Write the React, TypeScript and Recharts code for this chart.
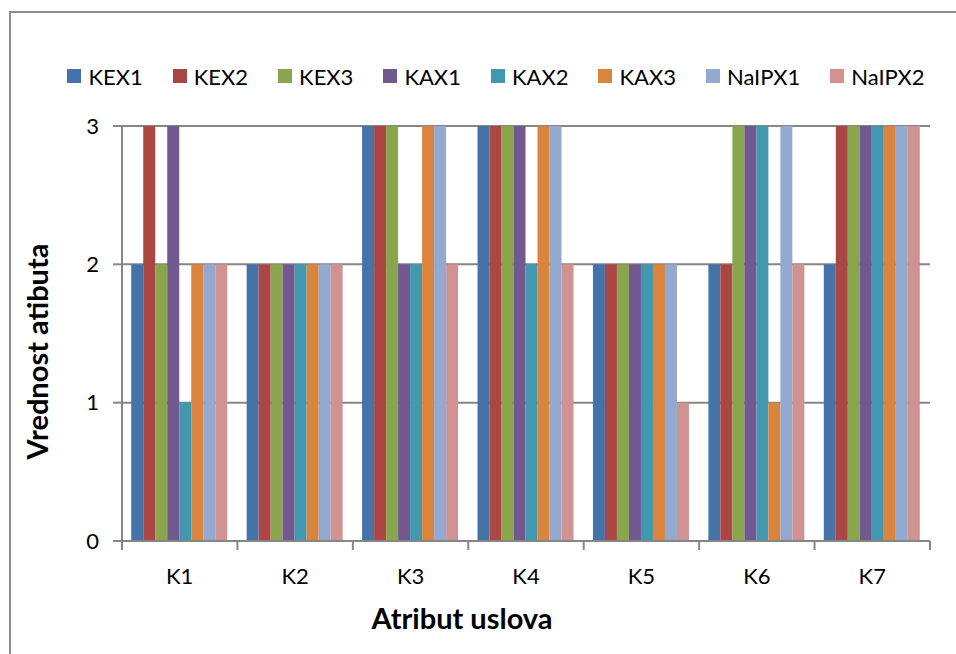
import { BarChart, Bar, XAxis, YAxis, CartesianGrid, Legend } from "recharts";

const categories = ["K1", "K2", "K3", "K4", "K5", "K6", "K7"];
const seriesNames = ["KEX1", "KEX2", "KEX3", "KAX1", "KAX2", "KAX3", "NaIPX1", "NaIPX2"];
const kex1 = [2, 2, 3, 3, 2, 2, 2];
const kex2 = [3, 2, 3, 3, 2, 2, 3];
const kex3 = [2, 2, 3, 3, 2, 3, 3];
const kax1 = [3, 2, 2, 3, 2, 3, 3];
const kax2 = [1, 2, 2, 2, 2, 3, 3];
const kax3 = [2, 2, 3, 3, 2, 1, 3];
const naipx1 = [2, 2, 3, 3, 2, 3, 3];
const naipx2 = [2, 2, 2, 2, 1, 2, 3];
const yTicks = [0, 1, 2, 3];

const colors = ["#4572A7", "#AA4643", "#89A54E", "#71588F", "#4198AF", "#DB843D", "#93A9CF", "#D19392"];
const values = [kex1, kex2, kex3, kax1, kax2, kax3, naipx1, naipx2];

const data = categories.map((c, i) => {
  const row: any = { name: c };
  seriesNames.forEach((s, j) => (row[s] = values[j][i]));
  return row;
});

const FONT = "Lato, 'DejaVu Sans', sans-serif";
const GRID = "#868686";

function CatTick(props: any) {
  const { x, y, payload, index, visibleTicksCount } = props;
  const band = props.width && visibleTicksCount ? props.width / visibleTicksCount : 2 * (payload.offset || 0);
  const left = x - band / 2;
  return (
    <g>
      <line x1={left} x2={left} y1={y} y2={y + 9} stroke={GRID} strokeWidth={2} />
      {index === visibleTicksCount - 1 && (
        <line x1={x + band / 2} x2={x + band / 2} y1={y} y2={y + 9} stroke={GRID} strokeWidth={2} />
      )}
      <text x={x} y={y + 43} textAnchor="middle" fontSize={22} fontFamily={FONT} fill="#000">
        {payload.value}
      </text>
    </g>
  );
}

function LegendContent(props: any) {
  // keep the series order instead of the sorted one
  const items = [...(props.payload || [])].sort(
    (a: any, b: any) => seriesNames.indexOf(a.value) - seriesNames.indexOf(b.value)
  );
  return (
    <div style={{ display: "flex", justifyContent: "center", alignItems: "center", height: 24, fontFamily: FONT, fontSize: 22 }}>
      {items.map((it: any, i: number) => (
        <div key={it.value} style={{ display: "flex", alignItems: "center", marginRight: i < items.length - 1 ? 30 : 0 }}>
          <span style={{ width: 14, height: 14, background: it.color, display: "inline-block", marginRight: 7 }} />
          <span>{it.value}</span>
        </div>
      ))}
    </div>
  );
}

export default function App() {
  return (
    <div style={{ position: "absolute", left: 0, top: 0, width: 956, height: 654, overflow: "hidden", background: "#fff" }}>
      <div style={{ position: "absolute", left: 9, top: 11, width: 990, height: 700, border: "2px solid #8c8c8c" }} />
      <div style={{ position: "absolute", left: 0, top: 0 }}>
        <BarChart
          width={956}
          height={654}
          data={data}
          margin={{ top: 126, right: 26, left: 0, bottom: 0 }}
          barCategoryGap="8%"
          barGap={0}
        >
          <CartesianGrid vertical={false} stroke={GRID} strokeWidth={2} />
          <XAxis
            dataKey="name"
            height={113}
            axisLine={{ stroke: GRID, strokeWidth: 2 }}
            tickLine={false}
            tickSize={0}
            tickMargin={0}
            tick={<CatTick />}
            interval={0}
            label={{
              value: "Atribut uslova",
              position: "insideBottom",
              offset: 25,
              dx: -64,
              style: { fontFamily: FONT, fontSize: 29, fontWeight: 700, fill: "#000" },
            }}
          />
          <YAxis
            width={122}
            domain={[0, 3]}
            ticks={yTicks}
            interval={0}
            axisLine={{ stroke: GRID, strokeWidth: 2 }}
            tickLine={{ stroke: GRID, strokeWidth: 2 }}
            tickSize={9}
            tickMargin={14}
            tick={{ fontFamily: FONT, fontSize: 22, fill: "#000" }}
            label={{
              value: "Vrednost atibuta",
              angle: -90,
              position: "insideLeft",
              offset: 38,
              dy: 18,
              style: { fontFamily: FONT, fontSize: 29, fontWeight: 700, fill: "#000", textAnchor: "middle" },
            }}
          />
          <Legend
            layout="horizontal"
            verticalAlign="middle"
            align="center"
            content={<LegendContent />}
            wrapperStyle={{ top: 64, left: 18, width: 956 }}
          />
          {seriesNames.map((s, j) => (
            <Bar key={s} dataKey={s} fill={colors[j]} isAnimationActive={false} />
          ))}
        </BarChart>
      </div>
    </div>
  );
}
